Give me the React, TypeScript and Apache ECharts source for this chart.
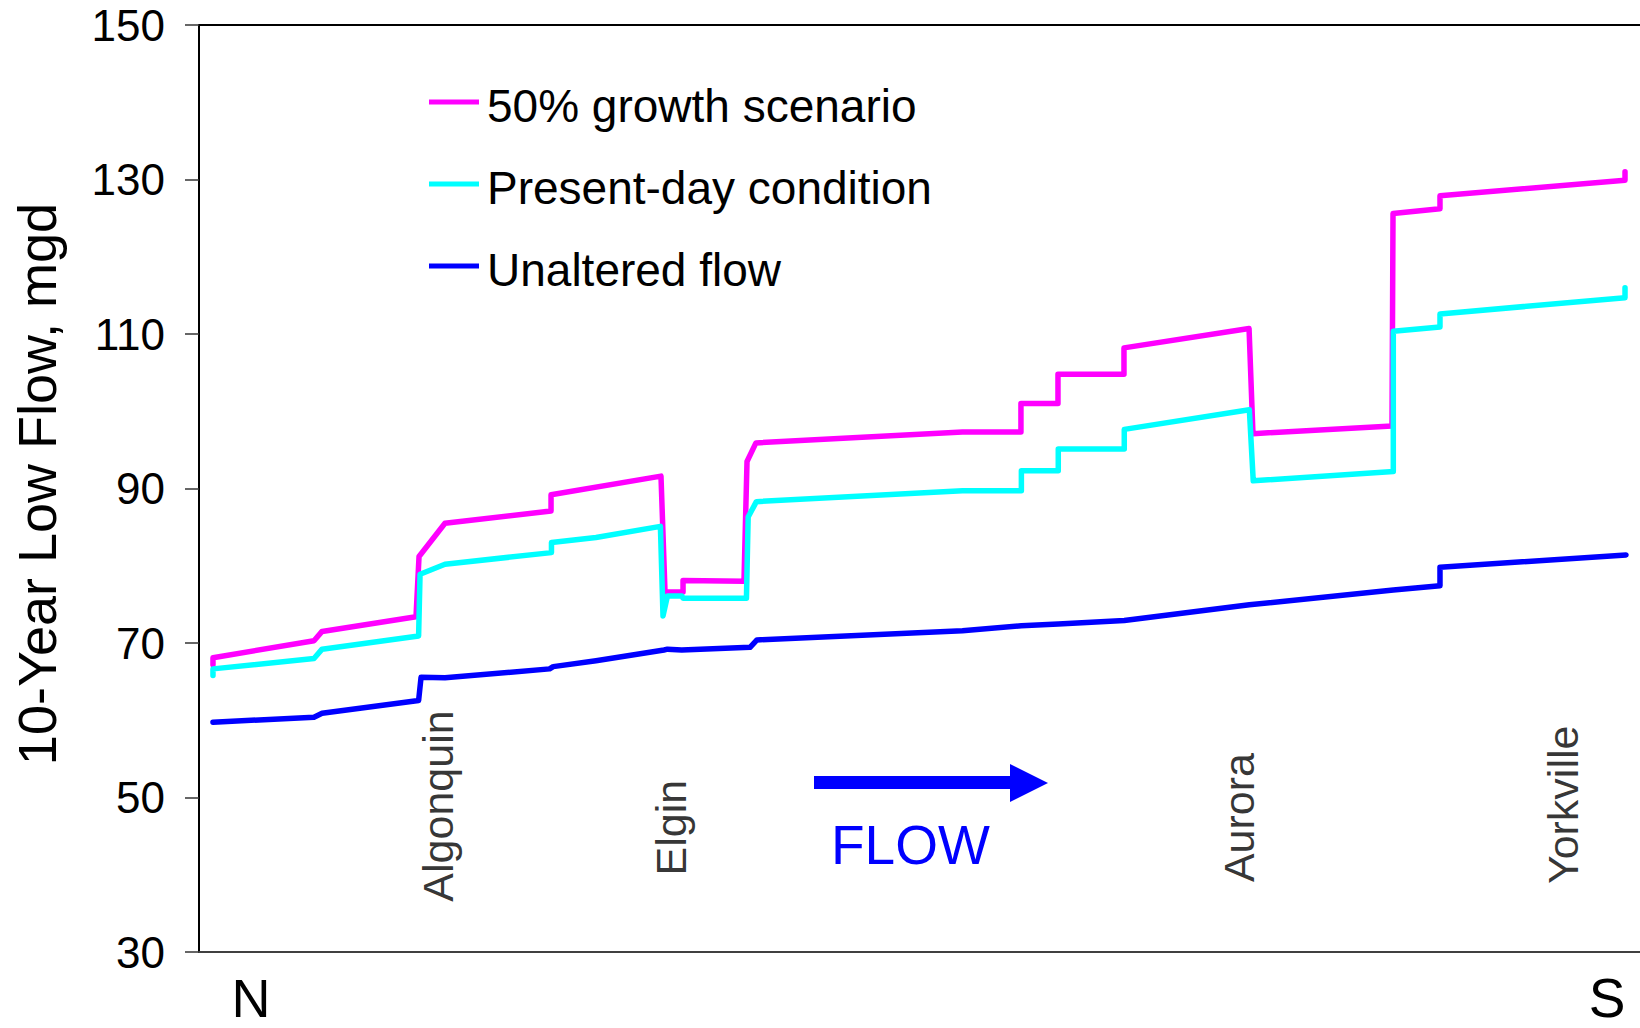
import React, { useEffect, useRef } from "react";
import * as echarts from "echarts";

// Distance along the river (0 = N end of plot, 100 = S end), 10-year low flow in mgd
const growthX = [0.97, 0.97, 7.98, 8.54, 15.06, 15.27, 17.07, 24.43, 24.43, 32.06, 32.34, 33.59, 33.59, 37.82, 38.03, 38.65, 52.98, 57.04, 57.04, 59.61, 59.61, 64.19, 64.19, 72.87, 73.14, 82.79, 82.86, 86.12, 86.12, 98.96, 98.96];
const growthY = [67.2, 68.1, 70.3, 71.5, 73.4, 81.2, 85.5, 87.1, 89.2, 91.6, 76.6, 76.6, 78.1, 78.0, 93.5, 95.9, 97.3, 97.3, 101.0, 101.0, 104.8, 104.8, 108.2, 110.7, 97.1, 98.1, 125.6, 126.2, 127.9, 129.9, 131.0];

const presentX = [0.97, 0.97, 7.98, 8.54, 15.24, 15.34, 17.07, 24.46, 24.46, 27.55, 32.02, 32.2, 32.51, 33.5, 33.59, 37.99, 38.11, 38.68, 52.98, 57.07, 57.07, 59.63, 59.63, 64.21, 64.21, 72.89, 73.16, 82.88, 82.88, 86.12, 86.12, 98.96, 98.96];
const presentY = [65.8, 66.65, 68.0, 69.2, 70.9, 78.9, 80.2, 81.7, 83.0, 83.65, 85.1, 73.5, 76.1, 76.1, 75.8, 75.8, 86.3, 88.3, 89.7, 89.7, 92.3, 92.3, 95.1, 95.1, 97.65, 100.2, 91.0, 92.2, 110.35, 110.9, 112.6, 114.7, 116.0];

const unalteredX = [0.97, 7.98, 8.54, 15.24, 15.41, 17.07, 24.33, 24.58, 27.55, 32.27, 32.51, 33.5, 38.24, 38.72, 52.98, 57.07, 59.63, 64.21, 72.89, 82.88, 86.12, 86.12, 99.03];
const unalteredY = [59.75, 60.4, 60.9, 62.55, 65.56, 65.5, 66.65, 66.94, 67.7, 69.1, 69.2, 69.1, 69.44, 70.4, 71.6, 72.24, 72.46, 72.9, 74.95, 76.85, 77.4, 79.8, 81.4];

const seriesNames = ["50% growth scenario", "Present-day condition", "Unaltered flow"];
const seriesColors = ["#FF00FF", "#00FFFF", "#0000FF"];

const cityNames = ["Algonquin", "Elgin", "Aurora", "Yorkville"];
const cityX = [16.59, 32.75, 72.17, 94.66];
const cityY = [48.9, 46.1, 47.4, 49.05];

const yTicks = { min: 30, max: 150, interval: 20 };
const yTitle = "10-Year Low Flow, mgd";

const FONT = "'Liberation Sans', Arial, Helvetica, sans-serif";

const zip = (xs: number[], ys: number[]) => xs.map((x, i) => [x, ys[i]]);

export default function App() {
  const ref = useRef<HTMLDivElement>(null);

  useEffect(() => {
    document.body.style.margin = "0";
    if (!ref.current) return;
    const chart = echarts.init(ref.current, null, { renderer: "svg" });

    const lineData = [zip(growthX, growthY), zip(presentX, presentY), zip(unalteredX, unalteredY)];

    const option: any = {
      animation: false,
      backgroundColor: "#ffffff",
      grid: { left: 199, right: 0, top: 25, bottom: 76, containLabel: false },
      xAxis: [
        {
          type: "value",
          min: 0,
          max: 100,
          position: "bottom",
          axisLine: { show: true, onZero: false, lineStyle: { color: "#404040", width: 2 } },
          axisTick: { show: false },
          axisLabel: { show: false },
          splitLine: { show: false },
        },
        {
          type: "value",
          min: 0,
          max: 100,
          position: "top",
          axisLine: { show: true, onZero: false, lineStyle: { color: "#000000", width: 2 } },
          axisTick: { show: false },
          axisLabel: { show: false },
          splitLine: { show: false },
        },
      ],
      yAxis: {
        type: "value",
        min: yTicks.min,
        max: yTicks.max,
        interval: yTicks.interval,
        axisLine: { show: true, lineStyle: { color: "#000000", width: 2 } },
        axisTick: { show: true, inside: false, length: 14, lineStyle: { color: "#333333", width: 1.5 } },
        axisLabel: { fontSize: 44, lineHeight: 44, fontFamily: FONT, color: "#000000", margin: 34 },
        splitLine: { show: false },
      },
      legend: {
        data: seriesNames,
        orient: "vertical",
        left: 429,
        top: 75,
        padding: 0,
        itemWidth: 50,
        itemHeight: 5,
        itemGap: 28,
        icon: "rect",
        selectedMode: false,
        formatter: "{t|{name}}",
        textStyle: {
          fontSize: 46,
          fontFamily: FONT,
          color: "#000000",
          rich: {
            t: { fontSize: 46, fontFamily: FONT, color: "#000000", lineHeight: 46, padding: [8, 0, 0, 3] },
          },
        },
      },
      series: [
        ...seriesNames.map((name, i) => ({
          name,
          type: "line",
          data: lineData[i],
          showSymbol: false,
          symbol: "none",
          color: seriesColors[i],
          lineStyle: { color: seriesColors[i], width: 5.5, cap: "round", join: "round" },
          z: 2 + i,
          silent: true,
        })),
        {
          name: "cities",
          type: "scatter",
          symbolSize: 1,
          itemStyle: { color: "transparent" },
          silent: true,
          data: cityNames.map((n, i) => ({ name: n, value: [cityX[i], cityY[i]] })),
          label: {
            show: true,
            position: "inside",
            rotate: 90,
            formatter: "{b}",
            fontSize: 43,
            fontFamily: FONT,
            color: "#000000",
          },
          z: 10,
        },
      ],
      graphic: [
        {
          type: "text",
          x: 36.5,
          y: 484,
          rotation: Math.PI / 2,
          style: {
            text: yTitle,
            fontSize: 54,
            fontFamily: FONT,
            fill: "#000000",
            align: "center",
            verticalAlign: "middle",
          },
        },
        {
          type: "polygon",
          shape: {
            points: [
              [814, 776],
              [1010, 776],
              [1010, 764],
              [1048, 783],
              [1010, 802],
              [1010, 789],
              [814, 789],
            ],
          },
          style: { fill: "#0000FF" },
        },
        {
          type: "text",
          x: 831,
          y: 845,
          style: {
            text: "FLOW",
            fontSize: 55,
            fontFamily: FONT,
            fill: "#0000FF",
            align: "left",
            verticalAlign: "middle",
          },
        },
        {
          type: "text",
          x: 251,
          y: 998,
          style: { text: "N", fontSize: 54, lineHeight: 44, fontFamily: FONT, fill: "#000000", align: "center", verticalAlign: "middle" },
        },
        {
          type: "text",
          x: 1607,
          y: 998,
          style: { text: "S", fontSize: 55, lineHeight: 44, fontFamily: FONT, fill: "#000000", align: "center", verticalAlign: "middle" },
        },
      ],
    };

    chart.setOption(option);
    return () => chart.dispose();
  }, []);

  return <div ref={ref} style={{ width: 1640, height: 1028 }} />;
}
